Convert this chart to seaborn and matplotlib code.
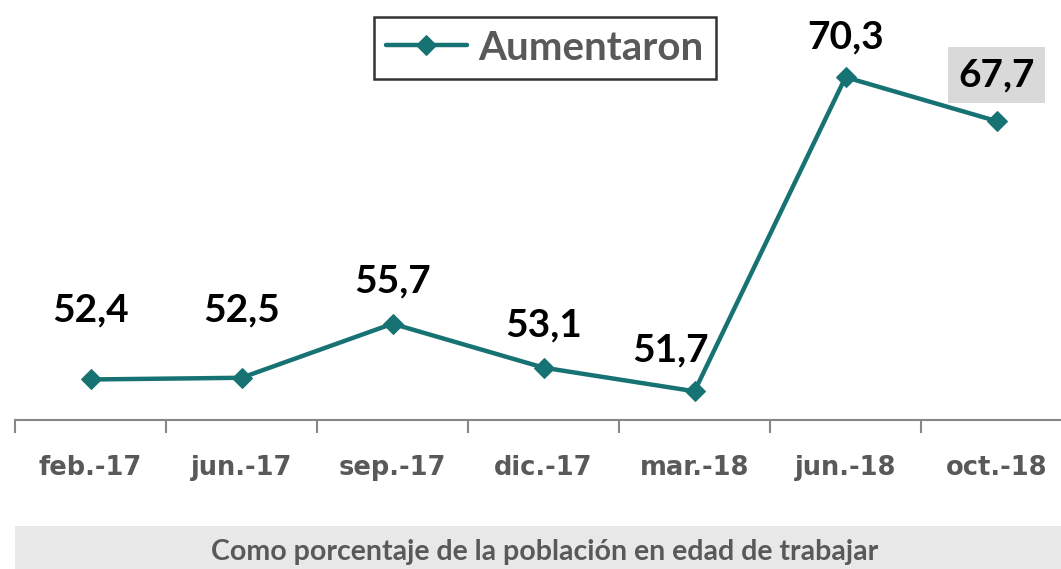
import numpy as np
import pandas as pd
import seaborn as sns
import matplotlib.pyplot as plt
from matplotlib import font_manager

# Chart values
periods = ['feb.-17', 'jun.-17', 'sep.-17', 'dic.-17', 'mar.-18', 'jun.-18', 'oct.-18']
aumentaron = [52.4, 52.5, 55.7, 53.1, 51.7, 70.3, 67.7]
label_texts = ['52,4', '52,5', '55,7', '53,1', '51,7', '70,3', '67,7']
series_name = 'Aumentaron'
footer = 'Como porcentaje de la población en edad de trabajar'

# label placement (points offset from marker)
label_dx = [0, 0, 0, 0, -17, 0, 0]
label_dy = [50, 49, 31, 31, 30, 29, 33]

teal = '#177373'
grey_text = '#595959'

sns.set_style('white')
available = {f.name for f in font_manager.fontManager.ttflist}
narrow = 'Liberation Sans Narrow' if 'Liberation Sans Narrow' in available else 'DejaVu Sans Condensed'
plt.rcParams['font.family'] = ['Lato', 'DejaVu Sans']

df = pd.DataFrame({'periodo': periods, 'valor': aumentaron, 'serie': series_name})
df['pos'] = np.arange(len(periods))

fig = plt.figure(figsize=(10.61, 5.69), dpi=100)
ax = fig.add_axes([15 / 1061, 149 / 569, 1046 / 1061, 420 / 569])

sns.lineplot(data=df, x='pos', y='valor', color=teal, linewidth=3.2,
             marker='D', markersize=10, markeredgecolor=teal, label=series_name, ax=ax)

# axes cosmetics
for side in ['top', 'right', 'left']:
    ax.spines[side].set_visible(False)
ax.spines['bottom'].set_color('#878787')
ax.spines['bottom'].set_linewidth(1.5)
ax.set_yticks([])
ax.set_xticks(df['pos'])
ax.set_xticklabels(periods, fontsize=18.5, fontweight='bold', color=grey_text, family=narrow)
ax.set_xticks(np.arange(-0.5, 6.6, 1), minor=True)
ax.tick_params(axis='x', which='major', bottom=True, length=0, pad=25)
ax.tick_params(axis='x', which='minor', bottom=True, length=9, width=1.5, color='#878787', direction='out')
ax.set_xlabel('')
ax.set_ylabel('')

ax.set_xlim(-0.5, 6.427)
ax.set_ylim(50, 74.87)

# data labels
for i, (v, t) in enumerate(zip(aumentaron, label_texts)):
    bbox = None
    if i == len(aumentaron) - 1:
        bbox = dict(boxstyle='square,pad=0.27', facecolor='#d9d9d9', edgecolor='none')
    ax.annotate(t, (i, v), xytext=(label_dx[i], label_dy[i]), textcoords='offset points',
                ha='center', va='center', fontsize=28, fontweight='bold', color='black', bbox=bbox)

leg = ax.legend(loc='center', bbox_to_anchor=(545 / 1061, 1 - 48 / 569), bbox_transform=fig.transFigure,
                frameon=True, fancybox=False, fontsize=29, handlelength=2.0, borderpad=0.3,
                handletextpad=0.3, borderaxespad=0)
leg.get_frame().set_edgecolor('black')
leg.get_frame().set_linewidth(1.8)
for txt in leg.get_texts():
    txt.set_color(grey_text)
    txt.set_fontweight('bold')

# footer band
fig.patches.append(plt.Rectangle((15 / 1061, 0), 1046 / 1061, 43 / 569, transform=fig.transFigure,
                                 facecolor='#e8e8e8', edgecolor='none', zorder=0))
fig.text(545 / 1061, 17 / 569, footer, ha='center', va='center', fontsize=20.5,
         fontweight='bold', color=grey_text)

fig.savefig('out.png', dpi=100)
